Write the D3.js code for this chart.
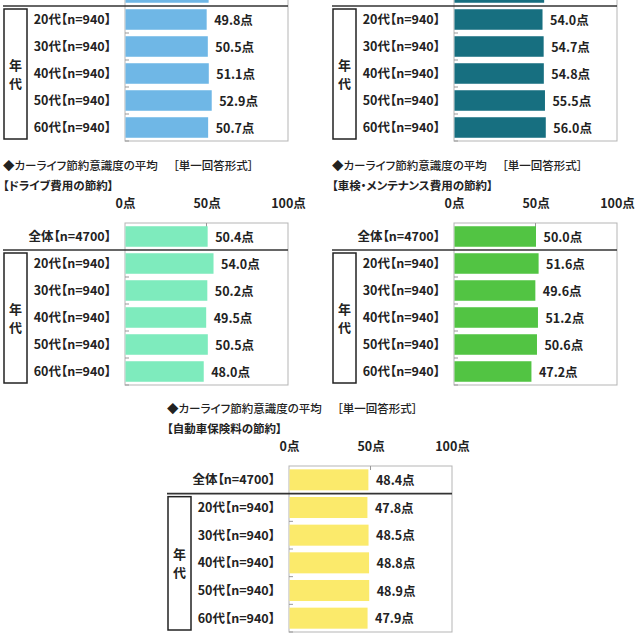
<!DOCTYPE html>
<html><head><meta charset="utf-8">
<script src="https://cdn.jsdelivr.net/npm/d3@7"></script>
<style>
html,body{margin:0;padding:0;background:#fff;}
svg{display:block;}
text{font-family:"Noto Sans CJK JP","Noto Sans",sans-serif;font-feature-settings:"palt" 1;fill:#222;}
</style></head>
<body>
<svg id="c" width="640" height="640"></svg>
<script>
// ---- data ----
const categories = ["全体【n=4700】","20代【n=940】","30代【n=940】","40代【n=940】","50代【n=940】","60代【n=940】"];
const groupLabel = ["年","代"];
const tickValues = [0, 50, 100];
const tickLabels = ["0点","50点","100点"];
const titleMain = "◆カーライフ節約意識度の平均";
const titleNote = "［単一回答形式］";
const subtitles = ["", "", "【ドライブ費用の節約】", "【車検・メンテナンス費用の節約】", "【自動車保険料の節約】"];
const valuesTopLeft = [51.0, 49.8, 50.5, 51.1, 52.9, 50.7];
const valuesTopRight = [55.0, 54.0, 54.7, 54.8, 55.5, 56.0];
const valuesDrive = [50.4, 54.0, 50.2, 49.5, 50.5, 48.0];
const valuesMaintenance = [50.0, 51.6, 49.6, 51.2, 50.6, 47.2];
const valuesInsurance = [48.4, 47.8, 48.5, 48.8, 48.9, 47.9];
const colors = ["#6fb7e6", "#176f80", "#7eebbd", "#52c443", "#fbea6b"];

// ---- layout ----
const panels = [
  {values: valuesTopLeft, fx: 125, fy: -21, h: 162, title: false},
  {values: valuesTopRight, fx: 454, fy: -21, h: 162, title: false},
  {values: valuesDrive, fx: 125, fy: 223, h: 162, title: true},
  {values: valuesMaintenance, fx: 454, fy: 223, h: 162, title: true},
  {values: valuesInsurance, fx: 289, fy: 466, h: 166, title: true}
];
const W = 163;
const svg = d3.select("#c");

panels.forEach((p, i) => {
  const g = svg.append("g");
  const x = d3.scaleLinear().domain([0, 100]).range([p.fx, p.fx + W]);
  const y = d3.scaleBand().domain(categories).range([p.fy, p.fy + p.h]).paddingInner(0.24).paddingOuter(0.12);
  const step = y.step();
  const left = p.fx - 122;

  if (p.title) {
    g.append("text").attr("x", left).attr("y", p.fy - 53).attr("font-size", 11.5).attr("font-weight", 500).text(titleMain);
    g.append("text").attr("x", left + 170).attr("y", p.fy - 53).attr("font-size", 11.5).attr("font-weight", 500).text(titleNote);
    g.append("text").attr("x", left).attr("y", p.fy - 33).attr("font-size", 11.5).attr("font-weight", 700).text(subtitles[i]);
    const ax = d3.axisTop(x).tickValues(tickValues).tickFormat((d, k) => tickLabels[k]).tickSize(0).tickPadding(0);
    const ag = g.append("g").attr("transform", `translate(0,${p.fy - 15})`).call(ax);
    ag.select(".domain").remove();
    ag.selectAll("text").attr("font-size", 12.5).attr("font-weight", 700).attr("fill", "#222")
      .style("font-family", '"Noto Sans CJK JP",sans-serif');
  }

  // frame
  g.append("rect").attr("x", x(0)).attr("y", p.fy).attr("width", x(100) - x(0)).attr("height", p.h)
    .attr("fill", "none").attr("stroke", "#b5b5b5").attr("stroke-width", 1);
  // 50 tick at top
  g.append("line").attr("x1", x(50)).attr("x2", x(50)).attr("y1", p.fy).attr("y2", p.fy + 4)
    .attr("stroke", "#999").attr("stroke-width", 1);

  // bars
  g.selectAll("rect.bar").data(p.values).join("rect").attr("class", "bar")
    .attr("x", x(0) + 0.5).attr("y", (d, k) => y(categories[k]))
    .attr("width", d => x(d) - x(0)).attr("height", y.bandwidth())
    .attr("fill", colors[i]);

  // left small ticks at boundaries of age rows
  categories.slice(2).concat([null]).forEach((c, k) => {
    const yy = c ? y(c) - step * 0.12 : p.fy + p.h;
    g.append("line").attr("x1", x(0)).attr("x2", x(0) + 4).attr("y1", yy).attr("y2", yy)
      .attr("stroke", "#999").attr("stroke-width", 1);
  });

  // separator
  const sepY = p.fy + step;
  g.append("line").attr("x1", left).attr("x2", x(100)).attr("y1", sepY).attr("y2", sepY)
    .attr("stroke", "#333").attr("stroke-width", 1.6);

  // category labels & values
  categories.forEach((c, k) => {
    const cy = y(c) + y.bandwidth() / 2;
    if (cy < 4) return;
    g.append("text").attr("x", p.fx - 14).attr("y", cy + 4.5).attr("text-anchor", "end")
      .attr("font-size", 12.5).attr("font-weight", 700).text(c);
    g.append("text").attr("x", x(p.values[k]) + 8).attr("y", cy + 5)
      .attr("font-size", 12.5).attr("font-weight", 700).text(p.values[k].toFixed(1) + "点");
  });

  // group box
  const bTop = sepY + 3, bBot = p.fy + p.h - 2;
  g.append("rect").attr("x", left + 1).attr("y", bTop).attr("width", 23).attr("height", bBot - bTop)
    .attr("fill", "none").attr("stroke", "#222").attr("stroke-width", 1.5);
  const mid = (bTop + bBot) / 2;
  groupLabel.forEach((t, k) => {
    g.append("text").attr("x", left + 12.5).attr("y", mid - 4 + k * 18).attr("text-anchor", "middle")
      .attr("font-size", 13).attr("font-weight", 700).text(t);
  });
});
</script>
</body></html>
